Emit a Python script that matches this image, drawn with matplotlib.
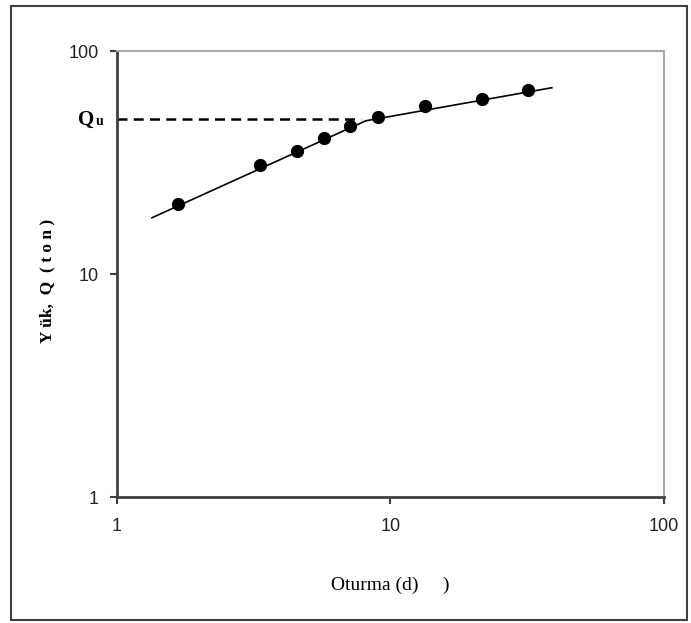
import matplotlib.pyplot as plt
from matplotlib.patches import Rectangle

# okunan veri (log-log)
settlement = [1.67, 3.35, 4.56, 5.74, 7.14, 8.99, 13.4, 21.7, 31.8]
load = [20.7, 30.9, 35.5, 40.9, 46.0, 50.7, 56.9, 61.1, 67.1]

# iki dogru parcasi
fit_x = [1.345, 8.13, 38.9]
fit_y = [17.9, 48.7, 68.5]

# Qu seviyesi
qu_x = [1.0, 7.8]
qu_y = [49.7, 49.7]

tick_vals = [1, 10, 100]
tick_labels = ['1', '10', '100']

fig = plt.figure(figsize=(6.91, 6.23), dpi=100)
ax = fig.add_axes([0.169, 0.202, 0.792, 0.716])

ax.plot(fit_x, fit_y, color='black', linewidth=1.2, zorder=2)
ax.plot(settlement, load, 'o', color='black', markersize=8.5, zorder=3)
ax.plot(qu_x, qu_y, color='black', linewidth=1.8, dashes=(4, 2.5), zorder=2)

ax.set_xscale('log')
ax.set_yscale('log')
ax.set_xlim(1, 100)
ax.set_ylim(1, 100)
ax.set_xticks(tick_vals)
ax.set_xticklabels(tick_labels)
ax.set_yticks(tick_vals)
ax.set_yticklabels(tick_labels)
ax.minorticks_off()

for lbl in ax.get_xticklabels() + ax.get_yticklabels():
    lbl.set_family('Liberation Sans')
    lbl.set_fontsize(13)
    lbl.set_color('#222222')
ax.tick_params(axis='x', length=5, width=1.5, color='#404040', pad=10)
ax.tick_params(axis='y', length=5, width=1.5, color='#404040', pad=8)

for side in ['left', 'bottom']:
    ax.spines[side].set_color('#404040')
    ax.spines[side].set_linewidth(2)
for side in ['top', 'right']:
    ax.spines[side].set_color('#a8a8a8')
    ax.spines[side].set_linewidth(1.5)

ax.set_xlabel('Oturma (d)     )', family='Liberation Serif', fontsize=14, labelpad=30)
ax.set_ylabel('Y ük,  Q  ( t o n )', family='Liberation Serif', fontsize=12.5,
              fontweight='bold')
ax.yaxis.set_label_coords(-0.112, 0.484)

# Qu etiketi
fig.text(0.113, 0.800, 'Q', family='Liberation Serif', fontsize=15,
         fontweight='bold', ha='left', va='baseline')
fig.text(0.138, 0.800, 'u', family='Liberation Serif', fontsize=10,
         fontweight='bold', ha='left', va='baseline')

# dis cerceve
fig.patches.append(Rectangle((0.016, 0.005), 0.978, 0.985, transform=fig.transFigure,
                             fill=False, edgecolor='#404040', linewidth=1.5))

plt.savefig('out.png', dpi=100)
